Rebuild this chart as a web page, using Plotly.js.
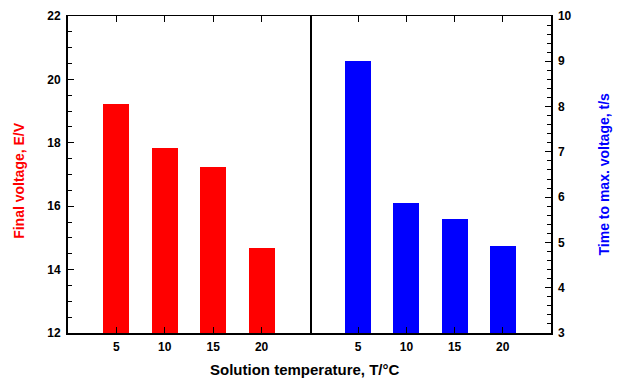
<!DOCTYPE html>
<html>
<head>
<meta charset="utf-8">
<script src="https://cdn.plot.ly/plotly-3.0.1.min.js"></script>
<style>html,body{margin:0;padding:0;background:#fff;}#chart{width:623px;height:380px;}</style>
</head>
<body>
<div id="chart"></div>
<script>
const categories = ["5", "10", "15", "20"];
const finalVoltage = [19.22, 17.84, 17.24, 14.68];
const timeToMax = [9.01, 5.87, 5.52, 4.92];
const leftTitle = "Final voltage, E/V";
const rightTitle = "Time to max. voltage, t/s";
const xTitle = "Solution temperature, T/\u00B0C";

const pos = categories.map((c, i) => i + 1);
const tickFont = {family: "Liberation Sans, Arial, sans-serif", size: 12, color: "#000", weight: "bold"};

const traces = [
  {type: "bar", x: pos, y: finalVoltage.map(v => v - 12), base: 12, xaxis: "x", yaxis: "y", width: 0.54,
   marker: {color: "#ff0000", line: {width: 0}}, showlegend: false, hoverinfo: "none"},
  {type: "bar", x: pos, y: timeToMax.map(v => v - 3), base: 3, xaxis: "x2", yaxis: "y2", width: 0.54,
   marker: {color: "#0000ff", line: {width: 0}}, showlegend: false, hoverinfo: "none"}
];

const xCommon = {range: [0, 5], tickvals: pos, ticktext: categories, showline: true, linecolor: "#000",
  linewidth: 1.5, mirror: "ticks", ticks: "inside", ticklen: 6, tickwidth: 1.2, tickcolor: "#000",
  showgrid: false, zeroline: false, tickfont: tickFont, ticklabelstandoff: 2, fixedrange: true};

const layout = {
  width: 623, height: 380,
  margin: {l: 68, r: 72, t: 16, b: 47},
  paper_bgcolor: "#fff", plot_bgcolor: "#fff",
  bargap: 0,
  xaxis: Object.assign({}, xCommon, {domain: [0, 0.501], anchor: "y"}),
  xaxis2: Object.assign({}, xCommon, {domain: [0.501, 1], anchor: "y2"}),
  yaxis: {range: [12, 22], dtick: 2, anchor: "x", side: "left", showline: true, linecolor: "#000", linewidth: 2,
    mirror: true, ticks: "inside", ticklen: 6, tickwidth: 1.2, tickcolor: "#000", showgrid: false, zeroline: false,
    tickfont: tickFont, ticklabelstandoff: 3,
    minor: {dtick: 0.5, ticks: "inside", ticklen: 4, tickwidth: 1, tickcolor: "#000", showgrid: false}},
  yaxis2: {range: [3, 10], dtick: 1, anchor: "x2", side: "right", showline: true, linecolor: "#000", linewidth: 1.5,
    mirror: false, ticks: "inside", ticklen: 6, tickwidth: 1.2, tickcolor: "#000", showgrid: false, zeroline: false,
    tickfont: tickFont, ticklabelstandoff: 3,
    minor: {dtick: 0.2, ticks: "inside", ticklen: 4, tickwidth: 1, tickcolor: "#000", showgrid: false}},
  annotations: [
    {text: leftTitle, xref: "paper", yref: "paper", x: 0, y: 0.48, xshift: -49, textangle: -90, showarrow: false,
     xanchor: "center", yanchor: "middle", font: {family: "Liberation Sans, Arial, sans-serif", size: 14, color: "#ff0000", weight: "bold"}},
    {text: rightTitle, xref: "paper", yref: "paper", x: 1, y: 0.5, xshift: 52, textangle: -90, showarrow: false,
     xanchor: "center", yanchor: "middle", font: {family: "Liberation Sans, Arial, sans-serif", size: 14, color: "#0000ff", weight: "bold"}},
    {text: xTitle, xref: "paper", yref: "paper", x: 0.49, y: 0, yshift: -36, showarrow: false,
     xanchor: "center", yanchor: "middle", font: {family: "Liberation Sans, Arial, sans-serif", size: 15, color: "#000", weight: "bold"}}
  ]
};

Plotly.newPlot("chart", traces, layout, {staticPlot: true, displayModeBar: false});
</script>
</body>
</html>
